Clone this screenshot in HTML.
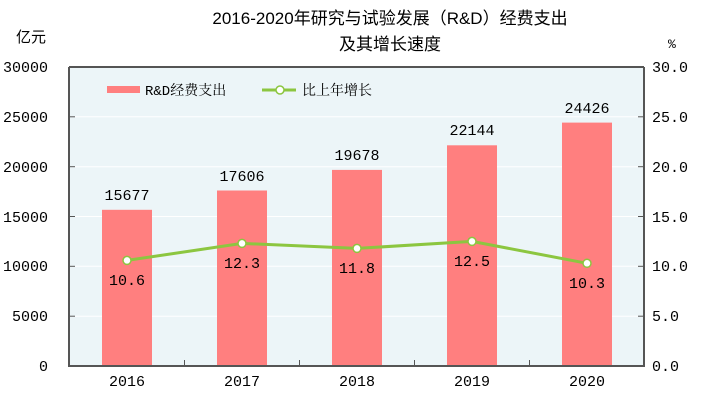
<!DOCTYPE html>
<html><head><meta charset="utf-8"><style>
body{margin:0;background:#fff;}
svg text{font-family:"Liberation Mono","Noto Serif CJK SC",monospace;font-size:15px;fill:#000;}
.t{font-family:"Liberation Sans","Noto Sans CJK SC",sans-serif;font-size:17px;}
</style></head><body>
<svg width="705" height="403" xmlns="http://www.w3.org/2000/svg">
<text class="t" x="390" y="24" text-anchor="middle">2016-2020年研究与试验发展（R&amp;D）经费支出</text>
<text class="t" x="390" y="50" text-anchor="middle">及其增长速度</text>
<text x="16" y="42" style="font-family:'Noto Sans CJK SC',sans-serif;font-size:15px">亿元</text>
<text x="668" y="48" style="font-size:13px">%</text>
<rect x="69" y="67" width="575" height="299" fill="#ecf5f8"/>
<g stroke="#fff" stroke-width="1">
<line x1="69" x2="644" y1="116.8" y2="116.8"/><line x1="69" x2="644" y1="166.7" y2="166.7"/>
<line x1="69" x2="644" y1="216.5" y2="216.5"/><line x1="69" x2="644" y1="266.3" y2="266.3"/>
<line x1="69" x2="644" y1="316.2" y2="316.2"/></g>
<g fill="#ff7f7f">
<rect x="102" y="209.8" width="50" height="156.2"/>
<rect x="217" y="190.5" width="50" height="175.5"/>
<rect x="332" y="169.9" width="50" height="196.1"/>
<rect x="447" y="145.3" width="50" height="220.7"/>
<rect x="562" y="122.6" width="50" height="243.4"/></g>
<g stroke="#555" stroke-width="2" fill="none">
<line x1="69" y1="67" x2="69" y2="366"/><line x1="644" y1="67" x2="644" y2="366"/>
<line x1="68" y1="366" x2="645" y2="366"/><line x1="69" y1="67" x2="644" y2="67"/>
</g>
<g stroke="#555" stroke-width="1">
<line x1="69" x2="75" y1="116.8" y2="116.8"/><line x1="69" x2="75" y1="166.7" y2="166.7"/><line x1="69" x2="75" y1="216.5" y2="216.5"/><line x1="69" x2="75" y1="266.3" y2="266.3"/><line x1="69" x2="75" y1="316.2" y2="316.2"/>
<line x1="638" x2="644" y1="116.8" y2="116.8"/><line x1="638" x2="644" y1="166.7" y2="166.7"/><line x1="638" x2="644" y1="216.5" y2="216.5"/><line x1="638" x2="644" y1="266.3" y2="266.3"/><line x1="638" x2="644" y1="316.2" y2="316.2"/>
<line x1="184.5" x2="184.5" y1="360" y2="366"/><line x1="299.5" x2="299.5" y1="360" y2="366"/><line x1="414.5" x2="414.5" y1="360" y2="366"/><line x1="529.5" x2="529.5" y1="360" y2="366"/>
</g>
<g text-anchor="end">
<text x="48" y="72">30000</text><text x="48" y="122">25000</text><text x="48" y="172">20000</text><text x="48" y="222">15000</text><text x="48" y="271">10000</text><text x="48" y="321">5000</text><text x="48" y="371">0</text></g>
<g>
<text x="652" y="72">30.0</text><text x="652" y="122">25.0</text><text x="652" y="172">20.0</text><text x="652" y="222">15.0</text><text x="652" y="271">10.0</text><text x="652" y="321">5.0</text><text x="652" y="371">0.0</text></g>
<g text-anchor="middle">
<text x="127" y="386">2016</text><text x="242" y="386">2017</text><text x="357" y="386">2018</text><text x="472" y="386">2019</text><text x="587" y="386">2020</text>
<text x="127" y="200">15677</text><text x="242" y="181">17606</text><text x="357" y="160">19678</text><text x="472" y="135">22144</text><text x="587" y="113">24426</text>
<text x="127" y="285">10.6</text><text x="242" y="268">12.3</text><text x="357" y="273">11.8</text><text x="472" y="266">12.5</text><text x="587" y="288">10.3</text></g>
<polyline points="127,260.4 242,243.4 357,248.4 472,241.4 587,263.3" fill="none" stroke="#8cc640" stroke-width="3"/>
<g fill="#fff" stroke="#8cc640" stroke-width="1.5">
<circle cx="127" cy="260.4" r="4"/><circle cx="242" cy="243.4" r="4"/><circle cx="357" cy="248.4" r="4"/><circle cx="472" cy="241.4" r="4"/><circle cx="587" cy="263.3" r="4"/></g>
<rect x="107" y="86" width="33" height="7" fill="#ff7f7f"/>
<text x="145" y="95" style="font-size:14px">R&amp;D经费支出</text>
<line x1="262" y1="90" x2="296" y2="90" stroke="#8cc640" stroke-width="3"/>
<circle cx="280" cy="90" r="4" fill="#fff" stroke="#8cc640" stroke-width="1.5"/>
<text x="302" y="95" style="font-size:14px">比上年增长</text>
</svg>
</body></html>
